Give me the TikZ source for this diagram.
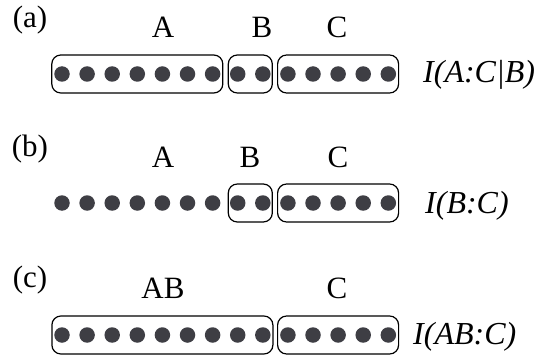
\documentclass[tikz,border=0pt]{standalone}
\usepackage{fontspec}
\setmainfont{Liberation Serif}

\definecolor{dotgray}{RGB}{62,62,68}

\tikzset{
  dot/.style={circle, fill=dotgray, inner sep=0pt, minimum size=15.5pt},
  group/.style={draw, rounded corners=9pt, line width=1.2pt, minimum height=38pt, inner sep=0pt},
  part/.style={anchor=base, inner sep=0pt, font=\fontsize{31}{36}\selectfont},
  info/.style={anchor=base west, inner sep=0pt, font=\fontsize{32}{37}\selectfont\itshape},
}

\begin{document}
\begin{tikzpicture}[x=1pt, y=-1pt]

\useasboundingbox (0,0) rectangle (545,358);

% (a)
\node (taga)[part] at (30, 28) {(a)};
\node (Aa)[part] at (163, 38) {A};
\node (Ba)[part] at (262, 38) {B};
\node (Ca)[part] at (337, 38) {C};

\foreach \i in {0,...,13}
  \node (a\i)[dot] at (62+25.1*\i, 74) {};

\node (grpAa)[group, minimum width=171pt] at (137.3, 74) {};
\node (grpBa)[group, minimum width=44pt] at (250.3, 74) {};
\node (grpCa)[group, minimum width=121pt] at (338.1, 74) {};

\node (infoa)[info] at (423, 83) {I(A:C|B)};

% (b)
\node (tagb)[part] at (30, 157) {(b)};
\node (Ab)[part] at (163, 167) {A};
\node (Bb)[part] at (250, 167) {B};
\node (Cb)[part] at (338, 167) {C};

\foreach \i in {0,...,13}
  \node (b\i)[dot] at (62+25.1*\i, 203) {};

\node (grpBb)[group, minimum width=44pt] at (250.3, 203) {};
\node (grpCb)[group, minimum width=121pt] at (338.1, 203) {};

\node (infob)[info] at (425, 213) {I(B:C)};

% (c)
\node (tagc)[part] at (30, 287) {(c)};
\node (ABc)[part] at (163, 298) {AB};
\node (Cc)[part] at (337, 298) {C};

\foreach \i in {0,...,13}
  \node (c\i)[dot] at (62+25.1*\i, 335) {};

\node (grpABc)[group, minimum width=221pt] at (162.4, 335) {};
\node (grpCc)[group, minimum width=121pt] at (338.1, 335) {};

\node (infoc)[info] at (413, 344) {I(AB:C)};

\end{tikzpicture}
\end{document}
